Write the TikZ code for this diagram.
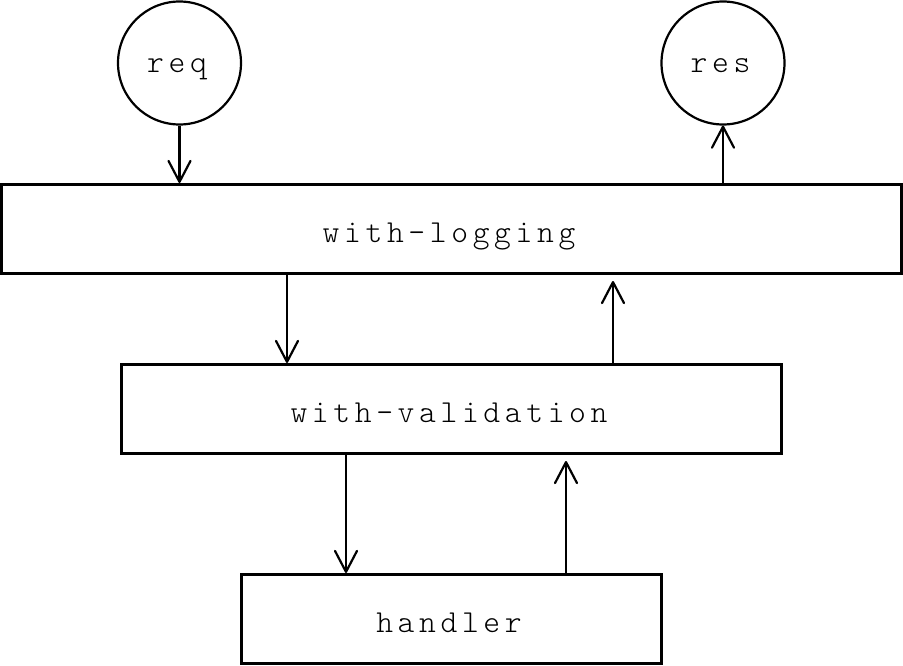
\documentclass[tikz,border=0pt]{standalone}
\usepackage{fontspec}
\setmonofont{lmmonolt10-regular.otf}[LetterSpace=14.5]
\usetikzlibrary{arrows.meta}
\newcommand{\lbltxt}[1]{#1\kern5pt}
\begin{document}
\begin{tikzpicture}[x=1pt,y=-1pt,
  lbl/.style={font=\ttfamily\fontsize{32}{36}\selectfont},
  box/.style={lbl, draw, line width=3pt, inner sep=0pt, text height=26pt, text depth=0pt},
  term/.style={lbl, draw, circle, line width=2.2pt, inner sep=0pt, minimum size=123pt, text height=20pt, text depth=0pt},
  arr/.style={line width=2.2pt, -{Straight Barb[length=21pt,width=22pt,line join=round,line cap=round]}}]
\useasboundingbox (0,0) rectangle (903,666);
\node[term] (req) at (179.5,63) {\lbltxt{req}};
\node[term] (res) at (723,63) {\lbltxt{res}};
\node[box, minimum width=900pt, minimum height=89pt] (log) at (451.5,229) {\lbltxt{with-logging}};
\node[box, minimum width=660pt, minimum height=89pt] (val) at (451.5,409) {\lbltxt{with-validation}};
\node[box, minimum width=420pt, minimum height=89pt] (hdl) at (451.5,619) {\lbltxt{handler}};
\draw[arr] (req.south) -- (req.south |- log.north);
\draw[arr] (log.north -| res.south) -- (res.south);
\draw[arr] ([xshift=-164.5pt]log.south) -- ([xshift=-164.5pt]log.south |- val.north);
\draw[arr] ([xshift=161.5pt]log.south |- val.north) -- ([xshift=161.5pt,yshift=-6pt]log.south);
\draw[arr] ([xshift=-105.5pt]val.south) -- ([xshift=-105.5pt]val.south |- hdl.north);
\draw[arr] ([xshift=114.5pt]val.south |- hdl.north) -- ([xshift=114.5pt,yshift=-6pt]val.south);
\end{tikzpicture}
\end{document}
